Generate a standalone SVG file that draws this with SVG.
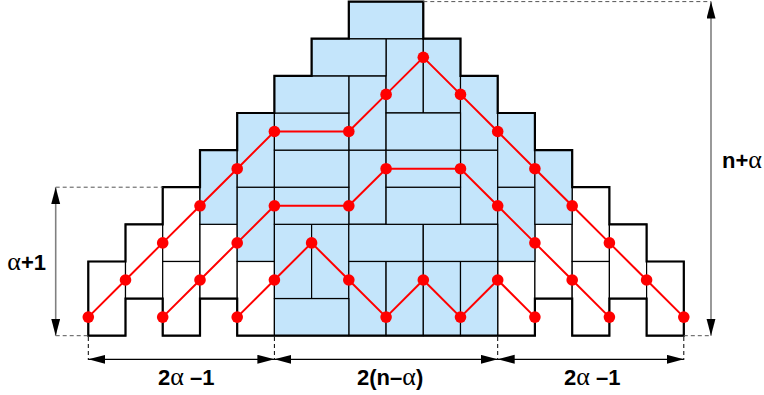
<svg xmlns="http://www.w3.org/2000/svg" width="764" height="395" viewBox="0 0 764 395">
<style>
.w{fill:#ffffff;stroke:#000;stroke-width:1.2}
.b{fill:#c4e5fb;stroke:#000;stroke-width:1.2}
.outline{fill:none;stroke:#000;stroke-width:2.2;stroke-linejoin:miter}
.path{fill:none;stroke:#ff0000;stroke-width:2}
.dot{fill:#ff0000}
.dash{fill:none;stroke:#555;stroke-width:1;stroke-dasharray:4,3}
.tick{fill:none;stroke:#000;stroke-width:1;stroke-dasharray:4,3}
.dimv{fill:none;stroke:#808080;stroke-width:1.6}
.dimh{fill:none;stroke:#000;stroke-width:1.3}
.lbl{font-family:"Liberation Sans",Arial,sans-serif;font-weight:bold;font-size:22px;fill:#000}
.al{font-family:"Liberation Serif","Times New Roman",serif;font-weight:normal;font-size:26px}
</style>
<defs>
<marker id="ah" markerUnits="userSpaceOnUse" markerWidth="18" markerHeight="10" refX="17" refY="4.5" orient="auto-start-reverse">
<path d="M0,0 L17,4.5 L0,9 z" fill="#000"/>
</marker>
</defs>
<g id="tiles">
<rect id="w1" class="w" x="88.3" y="261.5" width="37.2" height="74.2"/>
<rect id="w2" class="w" x="125.5" y="224.3" width="37.2" height="74.2"/>
<rect id="w3" class="w" x="162.7" y="261.5" width="37.2" height="74.2"/>
<rect id="w4" class="w" x="162.7" y="187.2" width="37.2" height="74.2"/>
<rect id="w5" class="w" x="200.0" y="224.3" width="37.2" height="74.2"/>
<rect id="w6" class="w" x="237.2" y="261.5" width="37.2" height="74.2"/>
<rect id="w7" class="w" x="497.7" y="261.5" width="37.2" height="74.2"/>
<rect id="w8" class="w" x="534.9" y="224.3" width="37.2" height="74.2"/>
<rect id="w9" class="w" x="572.2" y="261.5" width="37.2" height="74.2"/>
<rect id="w10" class="w" x="572.2" y="187.2" width="37.2" height="74.2"/>
<rect id="w11" class="w" x="609.4" y="224.3" width="37.2" height="74.2"/>
<rect id="w12" class="w" x="646.6" y="261.5" width="37.2" height="74.2"/>
<rect id="bv1" class="b" x="200.0" y="150.1" width="37.2" height="74.2"/>
<rect id="bv2" class="b" x="237.2" y="187.2" width="37.2" height="74.2"/>
<rect id="bv3" class="b" x="237.2" y="113.0" width="37.2" height="74.2"/>
<rect id="bv4" class="b" x="274.4" y="224.3" width="37.2" height="74.2"/>
<rect id="bv5" class="b" x="311.6" y="224.3" width="37.2" height="74.2"/>
<rect id="bv6" class="b" x="348.8" y="261.5" width="37.2" height="74.2"/>
<rect id="bv7" class="b" x="386.1" y="261.5" width="37.2" height="74.2"/>
<rect id="bv8" class="b" x="423.3" y="261.5" width="37.2" height="74.2"/>
<rect id="bv9" class="b" x="460.5" y="261.5" width="37.2" height="74.2"/>
<rect id="bv10" class="b" x="348.8" y="150.1" width="37.2" height="74.2"/>
<rect id="bv11" class="b" x="348.8" y="75.9" width="37.2" height="74.2"/>
<rect id="bv12" class="b" x="386.1" y="38.7" width="37.2" height="74.2"/>
<rect id="bv13" class="b" x="423.3" y="38.7" width="37.2" height="74.2"/>
<rect id="bv14" class="b" x="460.5" y="150.1" width="37.2" height="74.2"/>
<rect id="bv15" class="b" x="460.5" y="75.9" width="37.2" height="74.2"/>
<rect id="bv16" class="b" x="497.7" y="187.2" width="37.2" height="74.2"/>
<rect id="bv17" class="b" x="497.7" y="113.0" width="37.2" height="74.2"/>
<rect id="bv18" class="b" x="534.9" y="150.1" width="37.2" height="74.2"/>
<rect id="bh1" class="b" x="274.4" y="298.6" width="74.4" height="37.1"/>
<rect id="bh2" class="b" x="274.4" y="187.2" width="74.4" height="37.1"/>
<rect id="bh3" class="b" x="274.4" y="150.1" width="74.4" height="37.1"/>
<rect id="bh4" class="b" x="274.4" y="113.0" width="74.4" height="37.1"/>
<rect id="bh5" class="b" x="274.4" y="75.9" width="74.4" height="37.1"/>
<rect id="bh6" class="b" x="311.6" y="38.7" width="74.4" height="37.1"/>
<rect id="bh7" class="b" x="348.8" y="1.6" width="74.4" height="37.1"/>
<rect id="bh8" class="b" x="348.8" y="224.3" width="74.4" height="37.1"/>
<rect id="bh9" class="b" x="423.3" y="224.3" width="74.4" height="37.1"/>
<rect id="bh10" class="b" x="386.1" y="187.2" width="74.4" height="37.1"/>
<rect id="bh11" class="b" x="386.1" y="150.1" width="74.4" height="37.1"/>
<rect id="bh12" class="b" x="386.1" y="113.0" width="74.4" height="37.1"/>
<path id="outline" class="outline" d="M88.3,335.7 V261.5 H125.5 V224.3 H162.7 V187.2 H200.0 V150.1 H237.2 V113.0 H274.4 V75.9 H311.6 V38.7 H348.8 V1.6 H423.3 V38.7 H460.5 V75.9 H497.7 V113.0 H534.9 V150.1 H572.2 V187.2 H609.4 V224.3 H646.6 V261.5 H683.8 V335.7 H646.6 V298.6 H609.4 V335.7 H572.2 V298.6 H534.9 V335.7 H237.2 V298.6 H200.0 V335.7 H162.7 V298.6 H125.5 V335.7 Z"/>
</g>
<g id="dimensions">
<path class="dash" d="M55.7,187.2 H162.7 M55.7,335.7 H88.3 M423.3,1.6 H711 M683.8,335.7 H711"/>
<path class="tick" d="M88.3,337 V360 M274.4,337 V360 M497.7,337 V360 M683.8,337 V360"/>
<line class="dimv" x1="55.7" y1="187.2" x2="55.7" y2="335.7" marker-start="url(#ah)" marker-end="url(#ah)"/>
<line class="dimv" x1="711" y1="1.6" x2="711" y2="335.7" marker-start="url(#ah)" marker-end="url(#ah)"/>
<line class="dimh" x1="88.3" y1="359.3" x2="274.4" y2="359.3" marker-start="url(#ah)" marker-end="url(#ah)"/>
<line class="dimh" x1="274.4" y1="359.3" x2="497.7" y2="359.3" marker-start="url(#ah)" marker-end="url(#ah)"/>
<line class="dimh" x1="497.7" y1="359.3" x2="683.8" y2="359.3" marker-start="url(#ah)" marker-end="url(#ah)"/>
<text class="lbl" x="46" y="270" text-anchor="end"><tspan class="al">α</tspan>+1</text>
<text class="lbl" x="722" y="168"><tspan>n+</tspan><tspan class="al">α</tspan></text>
<text class="lbl" x="158" y="385">2<tspan class="al">α</tspan> –1</text>
<text class="lbl" x="357" y="385">2(n–<tspan class="al">α</tspan>)</text>
<text class="lbl" x="564" y="385">2<tspan class="al">α</tspan> –1</text>
</g>
<g id="connectors">
<polyline class="path" points="88.3,317.1 125.5,280.0 162.7,242.9 200.0,205.8 237.2,168.7 274.4,131.5 348.8,131.5 386.1,94.4 423.3,57.3 460.5,94.4 497.7,131.5 534.9,168.7 572.2,205.8 609.4,242.9 646.6,280.0 683.8,317.1"/>
<polyline class="path" points="162.7,317.1 200.0,280.0 237.2,242.9 274.4,205.8 348.8,205.8 386.1,168.7 460.5,168.7 497.7,205.8 534.9,242.9 572.2,280.0 609.4,317.1"/>
<polyline class="path" points="237.2,317.1 274.4,280.0 311.6,242.9 348.8,280.0 386.1,317.1 423.3,280.0 460.5,317.1 497.7,280.0 534.9,317.1"/>
</g>
<g id="nodes">
<circle id="p1" class="dot" cx="88.3" cy="317.1" r="5.8"/>
<circle id="p2" class="dot" cx="125.5" cy="280.0" r="5.8"/>
<circle id="p3" class="dot" cx="162.7" cy="242.9" r="5.8"/>
<circle id="p4" class="dot" cx="200.0" cy="205.8" r="5.8"/>
<circle id="p5" class="dot" cx="237.2" cy="168.7" r="5.8"/>
<circle id="p6" class="dot" cx="274.4" cy="131.5" r="5.8"/>
<circle id="p7" class="dot" cx="348.8" cy="131.5" r="5.8"/>
<circle id="p8" class="dot" cx="386.1" cy="94.4" r="5.8"/>
<circle id="p9" class="dot" cx="423.3" cy="57.3" r="5.8"/>
<circle id="p10" class="dot" cx="460.5" cy="94.4" r="5.8"/>
<circle id="p11" class="dot" cx="497.7" cy="131.5" r="5.8"/>
<circle id="p12" class="dot" cx="534.9" cy="168.7" r="5.8"/>
<circle id="p13" class="dot" cx="572.2" cy="205.8" r="5.8"/>
<circle id="p14" class="dot" cx="609.4" cy="242.9" r="5.8"/>
<circle id="p15" class="dot" cx="646.6" cy="280.0" r="5.8"/>
<circle id="p16" class="dot" cx="683.8" cy="317.1" r="5.8"/>
<circle id="q1" class="dot" cx="162.7" cy="317.1" r="5.8"/>
<circle id="q2" class="dot" cx="200.0" cy="280.0" r="5.8"/>
<circle id="q3" class="dot" cx="237.2" cy="242.9" r="5.8"/>
<circle id="q4" class="dot" cx="274.4" cy="205.8" r="5.8"/>
<circle id="q5" class="dot" cx="348.8" cy="205.8" r="5.8"/>
<circle id="q6" class="dot" cx="386.1" cy="168.7" r="5.8"/>
<circle id="q7" class="dot" cx="460.5" cy="168.7" r="5.8"/>
<circle id="q8" class="dot" cx="497.7" cy="205.8" r="5.8"/>
<circle id="q9" class="dot" cx="534.9" cy="242.9" r="5.8"/>
<circle id="q10" class="dot" cx="572.2" cy="280.0" r="5.8"/>
<circle id="q11" class="dot" cx="609.4" cy="317.1" r="5.8"/>
<circle id="r1" class="dot" cx="237.2" cy="317.1" r="5.8"/>
<circle id="r2" class="dot" cx="274.4" cy="280.0" r="5.8"/>
<circle id="r3" class="dot" cx="311.6" cy="242.9" r="5.8"/>
<circle id="r4" class="dot" cx="348.8" cy="280.0" r="5.8"/>
<circle id="r5" class="dot" cx="386.1" cy="317.1" r="5.8"/>
<circle id="r6" class="dot" cx="423.3" cy="280.0" r="5.8"/>
<circle id="r7" class="dot" cx="460.5" cy="317.1" r="5.8"/>
<circle id="r8" class="dot" cx="497.7" cy="280.0" r="5.8"/>
<circle id="r9" class="dot" cx="534.9" cy="317.1" r="5.8"/>
</g>
</svg>
